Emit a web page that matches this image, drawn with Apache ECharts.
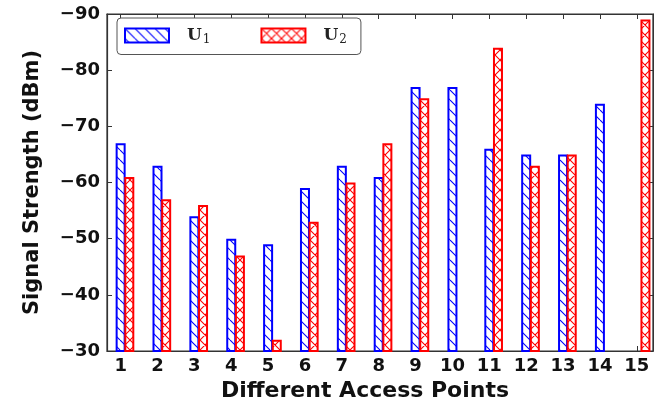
<!DOCTYPE html>
<html>
<head>
<meta charset="utf-8">
<script src="https://cdn.jsdelivr.net/npm/echarts@6/dist/echarts.min.js"></script>
<style>
  html, body { margin: 0; padding: 0; background: #fff; }
  #chart { width: 654px; height: 402px; }
</style>
</head>
<body>
<div id="chart"></div>
<script>
// Access point indices along the x axis
const accessPoints = [1, 2, 3, 4, 5, 6, 7, 8, 9, 10, 11, 12, 13, 14, 15];
// Received signal strength (dBm) per access point; null = not measured
const strengthU1 = [-67, -63, -54, -50, -49, -59, -63, -61, -77, -77, -66, -65, -65, -74, null];
const strengthU2 = [-61, -57, -56, -47, -32, -53, -60, -67, -75, null, -84, -63, -65, null, -89];
// y axis range and step
const yTop = -90, yBottom = -30, yStep = 10;
// x axis extent and the offset between paired bars (axis units)
const xMin = 0.63, xMax = 15.44, pairShift = 0.235;

// Hatched fill patterns drawn on small tiles
function hatch(color, size, cross) {
  const c = document.createElement('canvas');
  c.width = c.height = size;
  const g = c.getContext('2d');
  g.fillStyle = '#ffffff';
  g.fillRect(0, 0, size, size);
  g.strokeStyle = color;
  g.lineWidth = 1.1;
  g.beginPath();
  for (const k of [-size, 0, size]) {
    g.moveTo(k, 0); g.lineTo(k + size, size);
    if (cross) { g.moveTo(k + size, 0); g.lineTo(k, size); }
  }
  g.stroke();
  return { image: c, repeat: 'repeat' };
}

const BLUE = '#0000ff', RED = '#ff0000';
const bluePattern = hatch(BLUE, 10, false);
const redPattern = hatch(RED, 10, true);

const pairs = (vals) => accessPoints.map((x, i) => [x, vals[i]]).filter(p => p[1] !== null);
const minus = (v) => String(v).replace('-', '\u2212');

const boldFont = 'DejaVu Sans';
const chart = echarts.init(document.getElementById('chart'), null, { renderer: 'canvas' });

chart.setOption({
  animation: false,
  backgroundColor: '#ffffff',
  grid: {
    left: 107, right: 1, top: 14, bottom: 51,
    outerBoundsMode: 'none',
    show: true, borderColor: '#333', borderWidth: 1.2, backgroundColor: 'transparent'
  },
  legend: {
    left: 117, top: 18,
    padding: [9, 14, 9, 7],
    itemWidth: 44, itemHeight: 14, itemGap: 50,
    borderColor: '#555', borderWidth: 1, borderRadius: 4,
    backgroundColor: '#fff',
    icon: 'rect',
    data: [
      { name: 'U1', itemStyle: { color: bluePattern, borderColor: BLUE, borderWidth: 2 } },
      { name: 'U2', itemStyle: { color: redPattern, borderColor: RED, borderWidth: 2 } }
    ],
    formatter: (name) => '{u|U}{s|' + name.slice(1) + '}',
    textStyle: {
      padding: [0, 0, 0, 13],
      rich: {
        u: { fontFamily: 'DejaVu Serif', fontWeight: 'bold', fontSize: 17, color: '#222' },
        s: { fontFamily: 'DejaVu Serif', fontSize: 12, color: '#222', padding: [8, 0, 0, 1] }
      }
    }
  },
  xAxis: [
    {
      type: 'value', position: 'bottom', min: xMin, max: xMax,
      name: 'Different Access Points', nameLocation: 'middle', nameGap: 28,
      nameTextStyle: { fontFamily: boldFont, fontWeight: 'bold', fontSize: 22, color: '#111', padding: [0, 30, 0, 0] },
      axisLine: { show: true, lineStyle: { color: '#333', width: 1.2 } },
      axisTick: { show: true, inside: true, length: 5, customValues: accessPoints, lineStyle: { color: '#333' } },
      axisLabel: { show: true, customValues: accessPoints, margin: 6, fontFamily: boldFont, fontWeight: 'bold', fontSize: 18, color: '#111' },
      splitLine: { show: false }
    },
    {
      // shifted copy of the bottom axis for the second bar of each pair
      type: 'value', position: 'bottom', show: false,
      min: xMin - pairShift, max: xMax - pairShift
    },
    {
      type: 'value', position: 'top', min: xMin, max: xMax,
      axisLine: { show: true, lineStyle: { color: '#333', width: 1.2 } },
      axisTick: { show: true, inside: true, length: 5, customValues: accessPoints, lineStyle: { color: '#333' } },
      axisLabel: { show: false },
      splitLine: { show: false }
    }
  ],
  yAxis: [
    {
      type: 'value', inverse: true, min: yTop, max: yBottom, interval: yStep,
      name: 'Signal Strength (dBm)', nameLocation: 'middle', nameGap: 64, nameRotate: 90,
      nameTextStyle: { fontFamily: boldFont, fontWeight: 'bold', fontSize: 21, color: '#111' },
      axisLine: { show: true, lineStyle: { color: '#333', width: 1.2 } },
      axisTick: { show: true, inside: true, length: 5, lineStyle: { color: '#333' } },
      axisLabel: { margin: 7, fontFamily: boldFont, fontWeight: 'bold', fontSize: 18, color: '#111', formatter: minus },
      splitLine: { show: false }
    },
    {
      type: 'value', inverse: true, min: yTop, max: yBottom, interval: yStep, position: 'right',
      axisLine: { show: true, lineStyle: { color: '#333', width: 1.2 } },
      axisTick: { show: true, inside: true, length: 5, lineStyle: { color: '#333' } },
      axisLabel: { show: false },
      splitLine: { show: false }
    }
  ],
  series: [
    {
      name: 'U1', type: 'bar', xAxisIndex: 0, yAxisIndex: 0,
      barWidth: 10, barMaxWidth: 20, clip: true,
      itemStyle: { color: bluePattern, borderColor: BLUE, borderWidth: 2 },
      data: pairs(strengthU1)
    },
    {
      name: 'U2', type: 'bar', xAxisIndex: 1, yAxisIndex: 0,
      barWidth: 10, barMaxWidth: 20, clip: true,
      itemStyle: { color: redPattern, borderColor: RED, borderWidth: 2 },
      data: pairs(strengthU2)
    }
  ]
});
</script>
</body>
</html>
